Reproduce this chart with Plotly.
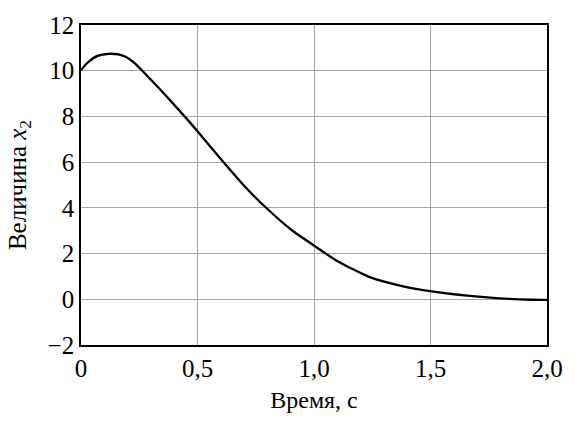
import plotly.graph_objects as go

# Time samples (s) and the x2 response
time_s = [0.0, 0.029, 0.071, 0.12, 0.16, 0.197, 0.23, 0.26, 0.336, 0.406,
          0.457, 0.499, 0.61, 0.708, 0.799, 0.904, 1.0, 1.099, 1.239, 1.378,
          1.497, 1.658, 1.797, 1.936, 2.0]
x2_values = [10.02, 10.36, 10.65, 10.74, 10.71, 10.58, 10.33, 10.03, 9.22, 8.44,
             7.86, 7.36, 6.02, 4.88, 3.96, 3.03, 2.35, 1.68, 0.97, 0.58,
             0.36, 0.16, 0.04, -0.02, -0.03]

x_tick_vals = [0, 0.5, 1.0, 1.5, 2.0]
x_tick_text = ["0", "0,5", "1,0", "1,5", "2,0"]
y_tick_vals = [-2, 0, 2, 4, 6, 8, 10, 12]
y_tick_text = ["\u22122", "0", "2", "4", "6", "8", "10", "12"]

serif = "Liberation Serif"


def axis_style(**extra):
    style = dict(
        showgrid=True, gridcolor="#a6a6a6", gridwidth=1,
        showline=True, linecolor="black", linewidth=1.7, mirror=True,
        zeroline=False, ticks="",
        tickfont=dict(family=serif, size=25, color="black"),
    )
    style.update(extra)
    return style


fig = go.Figure(
    data=[go.Scatter(
        x=time_s, y=x2_values, mode="lines",
        line=dict(color="black", width=2.3, shape="spline", smoothing=0.6),
        showlegend=False,
    )],
    layout=dict(
        width=575, height=421,
        margin=dict(l=81, r=16, t=20, b=74),
        font=dict(family=serif, size=25, color="black"),
        paper_bgcolor="white", plot_bgcolor="white",
        xaxis=axis_style(
            range=[0, 2.0], tickmode="array", tickvals=x_tick_vals, ticktext=x_tick_text,
            title=dict(text="Время, с", font=dict(family=serif, size=24, color="black"), standoff=10),
        ),
        yaxis=axis_style(
            range=[-2, 12], tickmode="array", tickvals=y_tick_vals, ticktext=y_tick_text,
            title=dict(text="Величина <i>x</i><sub>2</sub>", font=dict(family=serif, size=25, color="black"), standoff=14),
        ),
    ),
)

fig.write_html("out.html")
